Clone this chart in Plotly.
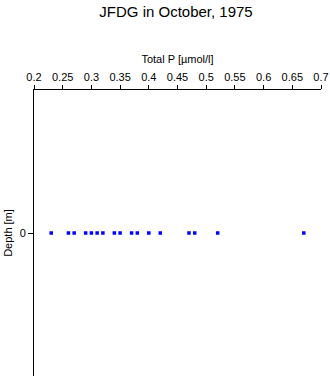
import plotly.graph_objects as go

total_p = [0.23, 0.26, 0.27, 0.29, 0.30, 0.31, 0.32, 0.34, 0.35, 0.37, 0.38,
           0.40, 0.42, 0.47, 0.48, 0.52, 0.67]
depth = [0] * len(total_p)
x_ticks = [0.2, 0.25, 0.3, 0.35, 0.4, 0.45, 0.5, 0.55, 0.6, 0.65, 0.7]
x_tick_labels = ["0.2", "0.25", "0.3", "0.35", "0.4", "0.45", "0.5", "0.55", "0.6", "0.65", "0.7"]

fig = go.Figure(go.Scatter(
    x=total_p, y=depth, mode="markers",
    marker=dict(symbol="square", size=3.5, color="#0000ff", line=dict(width=0)),
))

font = "Liberation Sans, Arial, sans-serif"
fig.update_layout(
    width=330, height=377,
    margin=dict(l=34, r=9, t=90, b=1),
    paper_bgcolor="white", plot_bgcolor="white",
    showlegend=False,
    font=dict(family=font, size=11, color="black"),
    title=dict(text="JFDG in October, 1975", x=176 / 330, xanchor="center",
               y=1 - 11.5 / 377, yanchor="middle", font=dict(size=15, family=font)),
    xaxis=dict(
        side="top", range=[0.2, 0.7], tickvals=x_ticks, ticktext=x_tick_labels,
        ticks="outside", ticklen=4, tickcolor="black", showline=True, linecolor="black",
        linewidth=1, showgrid=False, zeroline=False,
        title=dict(text="Total P [µmol/l]", standoff=4, font=dict(size=11)),
        tickfont=dict(size=11),
    ),
    yaxis=dict(
        range=[1, -1], tickvals=[0], ticktext=["0"], ticks="outside", ticklen=5,
        tickcolor="black", showline=True, linecolor="black", linewidth=1,
        showgrid=False, zeroline=False,
        title=dict(text="Depth [m]", standoff=4, font=dict(size=11)),
        tickfont=dict(size=11),
    ),
)

fig.write_html("out.html")
